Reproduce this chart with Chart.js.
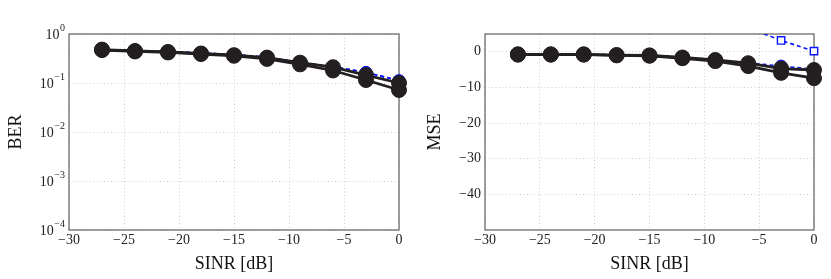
<!DOCTYPE html>
<html>
<head>
<meta charset="utf-8">
<script src="https://cdn.jsdelivr.net/npm/chart.js@4"></script>
<style>
  html, body { margin: 0; padding: 0; background: #ffffff; }
  #wrap { position: relative; width: 831px; height: 279px; overflow: hidden; }
  canvas { position: absolute; top: 0; }
</style>
</head>
<body>
<div id="wrap">
  <canvas id="ber" width="415" height="279" style="left:0px"></canvas>
  <canvas id="mse" width="416" height="279" style="left:415px"></canvas>
</div>
<script>
// ---- data ----
const sinr = [-27, -24, -21, -18, -15, -12, -9, -6, -3, 0];
const xTicks = [-30, -25, -20, -15, -10, -5, 0];
const berTicks = [1e-4, 1e-3, 1e-2, 1e-1, 1];
const mseTicks = [-40, -30, -20, -10, 0];

const berBlackLow  = [0.47, 0.44, 0.42, 0.39, 0.36, 0.31, 0.24, 0.18, 0.115, 0.072];
const berBlackHigh = [0.48, 0.45, 0.43, 0.40, 0.37, 0.33, 0.26, 0.21, 0.145, 0.100];
const berBlueCirc  = [0.48, 0.46, 0.44, 0.41, 0.38, 0.335, 0.265, 0.215, 0.165, 0.112];
const berBlueSq    = [0.48, 0.46, 0.44, 0.41, 0.38, 0.335, 0.265, 0.215, 0.165, 0.112];

const mseBlackLow  = [-0.8, -0.8, -0.8, -1.0, -1.1, -1.8, -2.6, -4.0, -5.9, -7.4];
const mseBlackHigh = [-0.7, -0.7, -0.7, -0.9, -1.0, -1.6, -2.3, -3.2, -4.7, -5.1];
const mseBlueCirc  = [-0.7, -0.7, -0.7, -0.8, -0.9, -1.5, -2.2, -3.1, -4.0, -4.9];
const mseBlueSq    = [20.0, 18.5, 17.0, 15.0, 13.0, 11.0, 9.0, 6.7, 3.2, 0.2];

// ---- styling helpers ----
const SERIF = "'Liberation Serif', 'DejaVu Serif', serif";
const BLACK = '#231f20';
const BLUE = '#0a14ff';
const toPts = ys => sinr.map((x, i) => ({x: x, y: ys[i]}));
const minus = v => (v < 0 ? '\u2212' + Math.abs(v) : String(v));
const CLIP = {left: 20, right: 20, top: 0, bottom: 20};

function makeDatasets(bl, bh, bc, bs) {
  return [
    {data: toPts(bl), borderColor: BLACK, backgroundColor: BLACK, borderWidth: 2.8,
     pointRadius: 7.5, pointBorderWidth: 1, pointBackgroundColor: BLACK, pointBorderColor: BLACK, clip: CLIP},
    {data: toPts(bh), borderColor: BLACK, backgroundColor: BLACK, borderWidth: 2.8,
     pointRadius: 7.5, pointBorderWidth: 1, pointBackgroundColor: BLACK, pointBorderColor: BLACK, clip: CLIP},
    {data: toPts(bc), borderColor: BLUE, backgroundColor: BLUE, borderWidth: 1.6, borderDash: [4, 3],
     pointRadius: 6, pointBorderWidth: 1, pointBackgroundColor: BLUE, pointBorderColor: BLUE, clip: CLIP},
    {data: toPts(bs), borderColor: BLUE, backgroundColor: '#ffffff', borderWidth: 1.6, borderDash: [4, 3],
     pointStyle: 'rect', pointRadius: 5.2, pointBorderWidth: 1.4, pointBackgroundColor: '#ffffff',
     pointBorderColor: BLUE, clip: CLIP}
  ];
}

const boxPlugin = {
  id: 'box',
  beforeDatasetsDraw(chart) {
    const {ctx, chartArea: a} = chart;
    ctx.save();
    ctx.strokeStyle = '#6b6b6b';
    ctx.lineWidth = 1.3;
    ctx.setLineDash([]);
    ctx.strokeRect(a.left, a.top, a.right - a.left, a.bottom - a.top);
    ctx.restore();
  }
};

const logLabelPlugin = {
  id: 'logLabels',
  afterDraw(chart) {
    const sc = chart.scales.y;
    if (sc.type !== 'logarithmic') return;
    const {ctx, chartArea: a} = chart;
    ctx.save();
    ctx.fillStyle = '#222';
    ctx.textBaseline = 'middle';
    berTicks.forEach(v => {
      const y = sc.getPixelForValue(v);
      const e = Math.round(Math.log10(v));
      const expTxt = e < 0 ? '\u2212' + Math.abs(e) : String(e);
      ctx.font = '10px ' + SERIF;
      const ew = ctx.measureText(expTxt).width;
      const right = a.left - 4;
      ctx.textAlign = 'left';
      ctx.fillText(expTxt, right - ew, y - 6);
      ctx.font = '14px ' + SERIF;
      ctx.textAlign = 'right';
      ctx.fillText('10', right - ew - 0.5, y + 1);
    });
    ctx.restore();
  }
};

function xScale() {
  return {
    type: 'linear', min: -30, max: 0,
    afterBuildTicks: s => { s.ticks = xTicks.map(v => ({value: v})); },
    afterFit: s => { s.height = 49; },
    border: {display: false, dash: [1, 2.5]},
    grid: {color: '#cfcfcf', lineWidth: 1, drawTicks: false},
    ticks: {color: '#222', font: {family: SERIF, size: 14}, padding: 2, maxRotation: 0,
            callback: v => minus(v)},
    title: {display: true, text: 'SINR [dB]', color: '#111', font: {family: SERIF, size: 18},
            padding: {top: 0, bottom: 4}}
  };
}

Chart.defaults.font.family = SERIF;

new Chart(document.getElementById('ber'), {
  type: 'line',
  data: {datasets: makeDatasets(berBlackLow, berBlackHigh, berBlueCirc, berBlueSq)},
  options: {
    responsive: false, animation: false, devicePixelRatio: 1,
    layout: {padding: {left: 0, right: 16, top: 34, bottom: 0}},
    plugins: {legend: {display: false}, tooltip: {enabled: false}},
    scales: {
      x: xScale(),
      y: {
        type: 'logarithmic', min: 1e-4, max: 1,
        afterBuildTicks: s => { s.ticks = berTicks.map(v => ({value: v})); },
        afterFit: s => { s.width = 69; },
        border: {display: false, dash: [1, 2.5]},
        grid: {color: '#cfcfcf', lineWidth: 1, drawTicks: false},
        ticks: {display: false},
        title: {display: true, text: 'BER', color: '#111', font: {family: SERIF, size: 18},
                padding: {top: 5, bottom: 0}}
      }
    }
  },
  plugins: [boxPlugin, logLabelPlugin]
});

new Chart(document.getElementById('mse'), {
  type: 'line',
  data: {datasets: makeDatasets(mseBlackLow, mseBlackHigh, mseBlueCirc, mseBlueSq)},
  options: {
    responsive: false, animation: false, devicePixelRatio: 1,
    layout: {padding: {left: 0, right: 17, top: 34, bottom: 0}},
    plugins: {legend: {display: false}, tooltip: {enabled: false}},
    scales: {
      x: xScale(),
      y: {
        type: 'linear', min: -50, max: 5,
        afterBuildTicks: s => { s.ticks = mseTicks.map(v => ({value: v})); },
        afterFit: s => { s.width = 70; },
        border: {display: false, dash: [1, 2.5]},
        grid: {color: '#cfcfcf', lineWidth: 1, drawTicks: false},
        ticks: {color: '#222', font: {family: SERIF, size: 14}, padding: 4, callback: v => minus(v)},
        title: {display: true, text: 'MSE', color: '#111', font: {family: SERIF, size: 18},
                padding: {top: 9, bottom: 0}}
      }
    }
  },
  plugins: [boxPlugin]
});
</script>
</body>
</html>
